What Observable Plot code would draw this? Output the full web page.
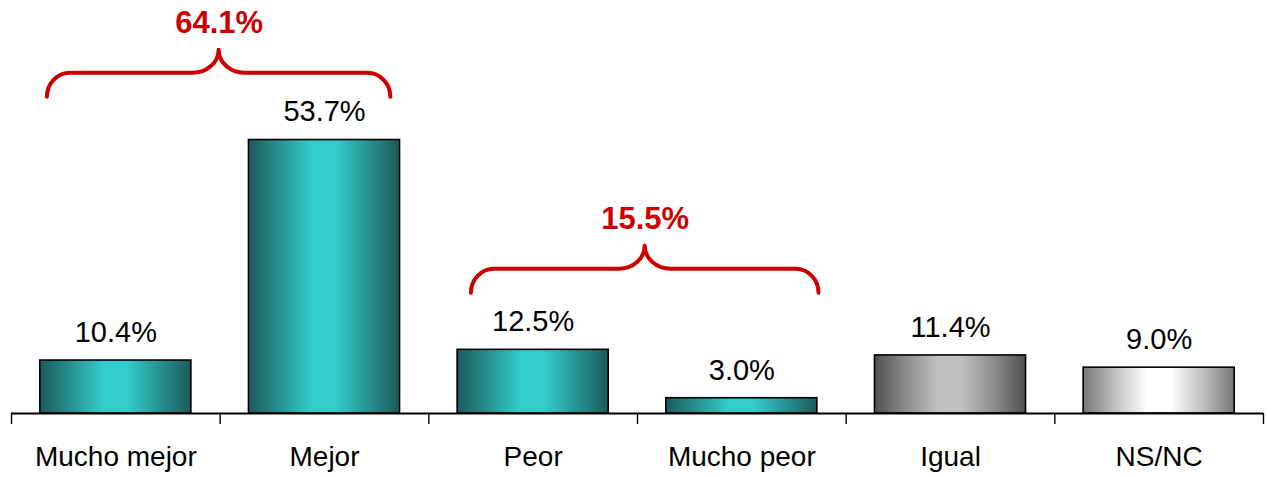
<!DOCTYPE html>
<html>
<head>
<meta charset="utf-8">
<script src="https://cdn.jsdelivr.net/npm/d3@7"></script>
<script src="https://cdn.jsdelivr.net/npm/@observablehq/plot@0.6"></script>
<style>
  html, body { margin: 0; padding: 0; background: #ffffff; }
  #chart svg { display: block; }
</style>
</head>
<body>
<div id="chart"></div>
<script>
// ---- data ----
const categories = ["Mucho mejor", "Mejor", "Peor", "Mucho peor", "Igual", "NS/NC"];
const values = [10.4, 53.7, 12.5, 3.0, 11.4, 9.0];
const bracketFrom = ["Mucho mejor", "Peor"];
const bracketTo = ["Mejor", "Mucho peor"];

// ---- layout (not data) ----
const FONT = "'Liberation Sans', Arial, Helvetica, sans-serif";
const RED = "#cc0000";
const bracketLevel = [62.1, 23.6];     // y value where the brace ends sit
const bracketShift = [-0.005, 0.037];  // small horizontal nudge (band units)
const bracketHalf = [0.823, 0.833];    // half width (band units)
const BAR_HALF = 0.362;

const n = categories.length;
const rows = categories.map((c, i) => ({ i, category: c, value: values[i] }));
const fillFor = i => i < 4 ? "url(#gTeal)" : i === 4 ? "url(#gGray)" : "url(#gLight)";

const brackets = bracketFrom.map((from, k) => {
  const i0 = categories.indexOf(from), i1 = categories.indexOf(bracketTo[k]);
  const total = d3.sum(values.slice(i0, i1 + 1));
  const xm = (i0 + i1) / 2 + bracketShift[k];
  return { xm, xa: xm - bracketHalf[k], xb: xm + bracketHalf[k], y: bracketLevel[k], label: total.toFixed(1) + "%" };
});

// brace geometry in pixels
const H1 = 24, H2 = 23, R1 = 23, R2 = 26, K = 0.5523;

function braceMark(index, scales) {
  const g = d3.create("svg:g");
  for (const b of brackets) {
    const xa = scales.x(b.xa), xb = scales.x(b.xb), xm = scales.x(b.xm);
    const ye = scales.y(b.y), ym = ye - H1, yp = ym - H2;
    const p = d3.path();
    p.moveTo(xa, ye);
    p.bezierCurveTo(xa, ye - K * H1, xa + R1 - K * R1, ym, xa + R1, ym);
    p.lineTo(xm - R2, ym);
    p.bezierCurveTo(xm - R2 + K * R2, ym, xm, yp + K * H2, xm, yp);
    p.bezierCurveTo(xm, yp + K * H2, xm + R2 - K * R2, ym, xm + R2, ym);
    p.lineTo(xb - R1, ym);
    p.bezierCurveTo(xb - R1 + K * R1, ym, xb, ye - K * H1, xb, ye);
    g.append("path")
      .attr("d", p.toString())
      .attr("fill", "none")
      .attr("stroke", RED)
      .attr("stroke-width", 4)
      .attr("stroke-linecap", "round")
      .attr("stroke-linejoin", "round");
  }
  return g.node();
}

const chart = Plot.plot({
  width: 1267,
  height: 477,
  marginLeft: 11,
  marginRight: 4,
  marginTop: 0,
  marginBottom: 64,
  style: { fontFamily: FONT, background: "#ffffff", color: "#000000" },
  x: { domain: [-0.5, n - 0.5], axis: null },
  y: { domain: [0, 81.1], axis: null },
  color: { type: "identity" },
  marks: [
    Plot.rectY(rows, {
      x1: d => d.i - BAR_HALF,
      x2: d => d.i + BAR_HALF,
      y: "value",
      fill: d => fillFor(d.i),
      stroke: "#000000",
      strokeWidth: 1.6
    }),
    Plot.ruleY([0], { stroke: "#000000", strokeWidth: 2 }),
    Plot.axisX(d3.range(n + 1).map(i => i - 0.5), {
      tickSize: 11, tickFormat: () => "", stroke: "#000000", strokeWidth: 1.4, label: null
    }),
    Plot.axisX(d3.range(n), {
      tickSize: 0, tickPadding: 33, tickFormat: i => categories[i],
      fontSize: 28, fill: "#000000", label: null
    }),
    Plot.text(rows, {
      x: "i", y: "value", text: d => d.value.toFixed(1) + "%",
      dy: -28, fontSize: 29, fill: "#000000"
    }),
    braceMark,
    Plot.text(brackets, {
      x: "xm", y: "y", text: "label",
      dy: -(H1 + H2 + 27), fontSize: 31, fontWeight: "bold", fill: RED
    })
  ]
});

// gradient definitions for the bar fills
const defs = d3.select(chart).insert("defs", ":first-child");
function grad(id, stops) {
  const lg = defs.append("linearGradient").attr("id", id)
    .attr("x1", "0%").attr("x2", "100%").attr("y1", "0%").attr("y2", "0%");
  for (const [o, c] of stops) lg.append("stop").attr("offset", o).attr("stop-color", c);
}
grad("gTeal", [[0, "#1b5b5a"], [0.2, "#26908f"], [0.42, "#33cccc"], [0.58, "#33cccc"], [0.8, "#26908f"], [1, "#1b5b5a"]]);
grad("gGray", [[0, "#4f4f4f"], [0.2, "#8a8a8a"], [0.42, "#c0c0c0"], [0.58, "#c0c0c0"], [0.8, "#8a8a8a"], [1, "#4f4f4f"]]);
grad("gLight", [[0, "#767676"], [0.2, "#bdbdbd"], [0.42, "#ffffff"], [0.58, "#ffffff"], [0.8, "#bdbdbd"], [1, "#767676"]]);

document.getElementById("chart").appendChild(chart);
</script>
</body>
</html>
